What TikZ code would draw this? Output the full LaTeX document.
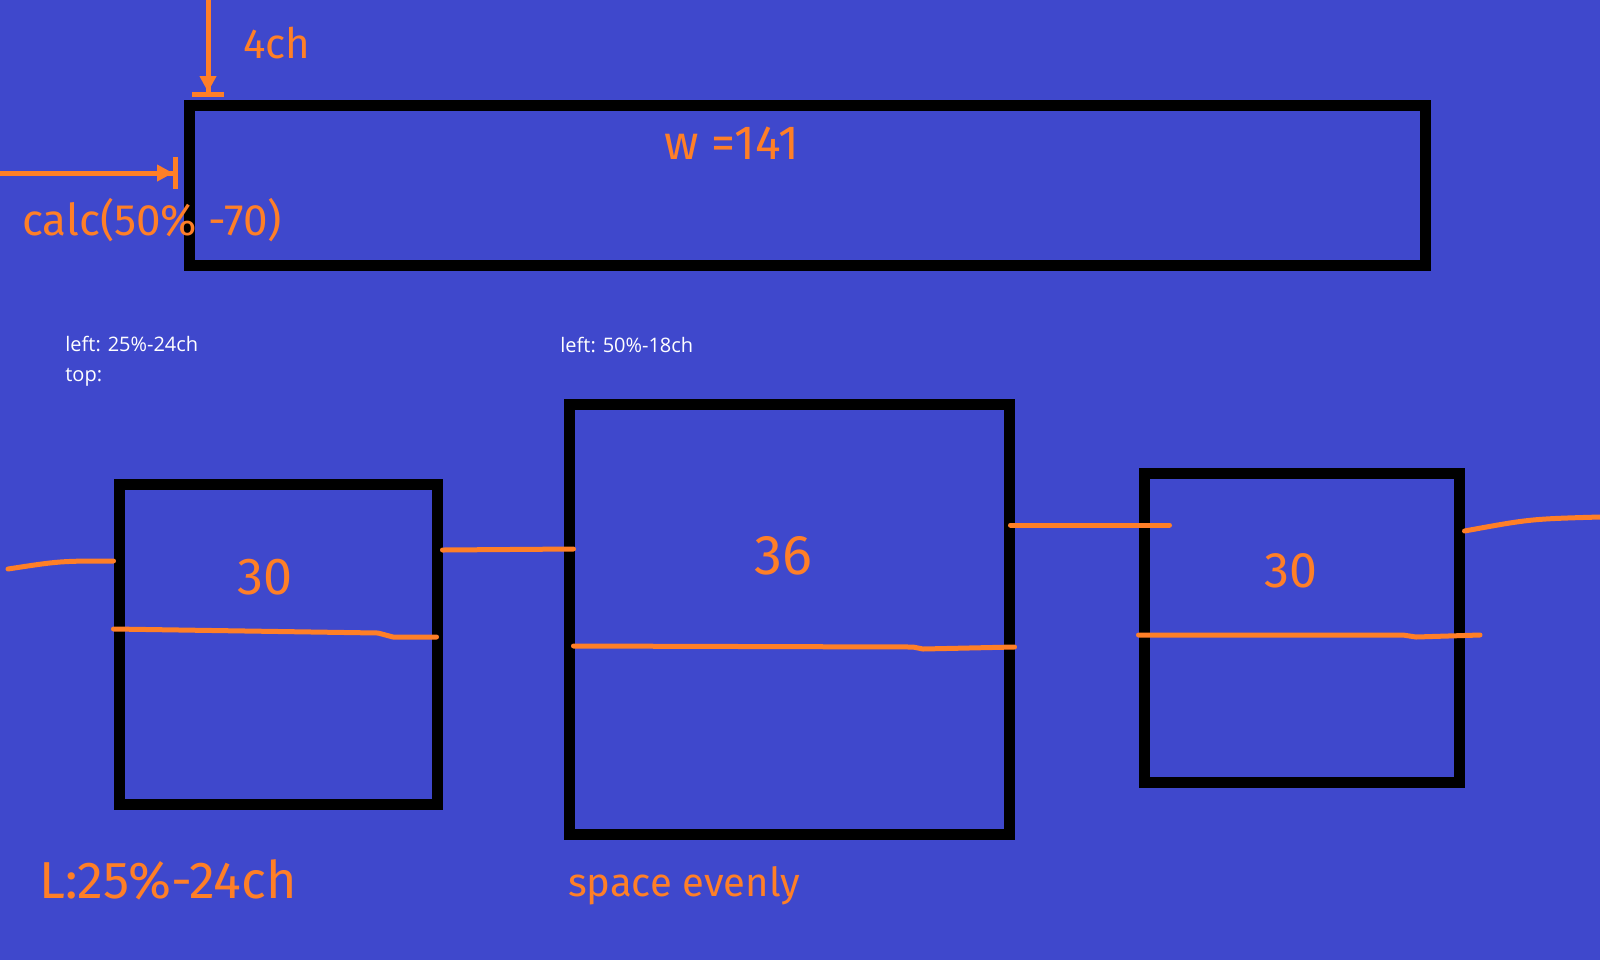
\documentclass[tikz,border=0pt]{standalone}
\usepackage{fontspec}
\newfontfamily\uifont{Open Sans}
\newfontfamily\handfont{Fira Sans}
\usetikzlibrary{arrows.meta,positioning,calc}
\definecolor{paintblue}{RGB}{63,72,204}
\definecolor{paintorange}{RGB}{255,127,39}

\begin{document}
\begin{tikzpicture}[
  x=0.5pt, y=-0.5pt,
  box/.style={rectangle, draw=black, line width=5.5pt, inner sep=0pt},
  stroke/.style={draw=paintorange, line width=2.5pt, line cap=round, line join=round},
  pointer/.style={stroke,
    -{Triangle[length=8pt,width=8pt]Bar[width=16pt,line width=2.5pt]}},
  hand/.style={text=paintorange, inner sep=0pt,
    font=\handfont\fontsize{#1pt}{#1pt}\selectfont},
  hand/.default=20,
  note/.style={text=white, inner sep=0pt, anchor=north west, align=left,
    font=\uifont\fontsize{10pt}{14.8pt}\selectfont}
]

% Background
\fill[paintblue] (0,0) rectangle (1600,960);
\useasboundingbox (0,0) rectangle (1600,960);

% Boxes
\node[box, minimum width=618pt, minimum height=80pt] (topbar) at (807.5,185) {};
\node[box, minimum width=159pt, minimum height=160pt] (boxleft) at (278,644) {};
\node[box, minimum width=220pt, minimum height=215pt] (boxmid) at (789,619) {};
\node[box, minimum width=157.5pt, minimum height=154.5pt] (boxright) at (1301.5,627.5) {};

% Labels
\node[hand=24] (width) at (732,143) {w =141};
\node[hand=21] (gap) at (277,43) {4ch};
\node[hand=22] (calc) at (152,220) {calc(50\% -70)};
\node[hand=26] (numleft) at (265,577) {30};
\node[hand=28] (nummid) at (783,556) {36};
\node[hand=25] (numright) at (1291,571) {30};
\node[hand=26] (leftrule) at (168,880) {L:25\%-24ch};
\node[hand=20] (spacing) at (684,886) {space evenly};
\node[note] (noteleft) at (65,336) {left: 25\%-24ch\\top:};
\node[note] (notemid) at (560,337) {left: 50\%-18ch};

% Arrows
\coordinate (gaptop) at (208,0);
\coordinate (gaptip) at (208,97);
\coordinate (calcstart) at (0,173);
\coordinate (calctip) at (178,173);
\draw[pointer] (gaptop) -- (gaptip);
\draw[pointer] (calcstart) -- (calctip);

% Connectors
\coordinate (leftend) at (8,569);
\coordinate (rightend) at (1600,517);
\draw[stroke] (leftend) .. controls (60,561) .. (boxleft.west |- 0,561);
\draw[stroke] (boxleft.east |- 0,550) -- ($(boxmid.west |- 0,549)+(10,0)$);
\draw[stroke] ($(boxmid.east |- 0,525)+(-4,0)$) -- ($(boxright.west |- 0,525)+(31,0)$);
\draw[stroke] (boxright.east |- 0,531) .. controls (1530,519) .. (rightend);

% Underlines
\draw[stroke] (boxleft.west |- 0,629) -- (378,633) -- (393,637) -- ($(boxleft.east |- 0,637)+(-6,0)$);
\draw[stroke] ($(boxmid.west |- 0,646)+(10,0)$) -- (913,647) -- (923,649) -- (boxmid.east |- 0,647);
\draw[stroke] (boxright.west |- 0,635) -- (1403,635) -- (1416,637) -- (1480,635);
\end{tikzpicture}
\end{document}
